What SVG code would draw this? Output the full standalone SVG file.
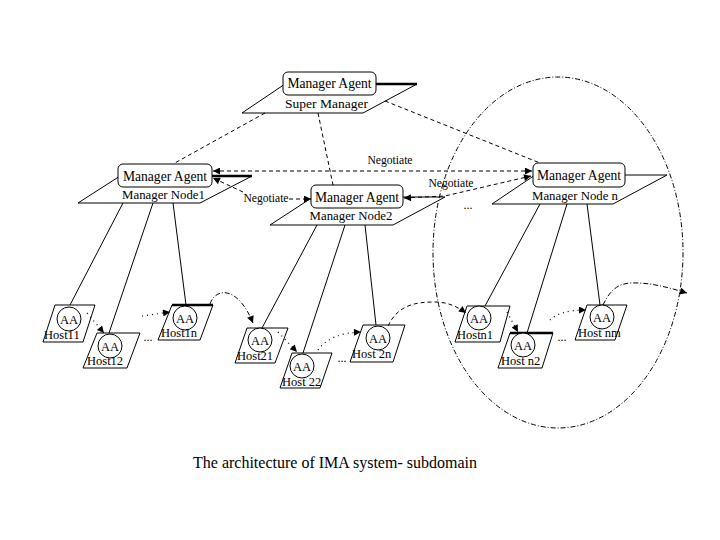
<svg xmlns="http://www.w3.org/2000/svg" width="720" height="540" viewBox="0 0 720 540">
<defs>
<style>
text{font-family:"Liberation Serif","Times New Roman",serif;fill:#000}
.agent{font-size:13.6px;text-anchor:middle}
.sub{font-size:12.8px;text-anchor:middle}
.host{font-size:12.5px}
.aa{font-size:12.5px;text-anchor:middle}
.neg{font-size:11.6px;text-anchor:middle}
.dots{font-size:12px;text-anchor:middle}
.title{font-size:16px}
.para{fill:none;stroke:#000;stroke-width:1}
.box{fill:#fff;stroke:#000;stroke-width:1}
.circ{fill:#fff;stroke:#000;stroke-width:1}
.thick{stroke:#000;stroke-width:2.5;fill:none}
.solid{stroke:#000;stroke-width:1;fill:none}
.dash{stroke:#000;stroke-width:1;fill:none;stroke-dasharray:4 3}
.dashdot{stroke:#000;stroke-width:1;fill:none;stroke-dasharray:5 2 1 2}
.dotted{stroke:#000;stroke-width:1.2;fill:none;stroke-dasharray:1 4}
.arr{marker-end:url(#ah)}
.arr2{marker-start:url(#ah);marker-end:url(#ah)}
.arrs{marker-start:url(#ah)}
</style>
<marker id="ah" viewBox="0 0 10 10" refX="10" refY="5" markerWidth="9" markerHeight="7" markerUnits="userSpaceOnUse" orient="auto-start-reverse">
<path d="M0,0 L10,5 L0,10 z" fill="#000"/>
</marker>
</defs>
<rect width="720" height="540" fill="#fff"/>

<g id="subdomain">
<ellipse cx="558" cy="252.5" rx="125" ry="175.5" class="dashdot"/>
</g>

<g id="connectors">
<!-- super manager to managers -->
<line x1="265" y1="113" x2="173" y2="164" class="dash"/>
<line x1="318" y1="113" x2="333" y2="185" class="dash"/>
<line x1="385" y1="101" x2="540" y2="163" class="dash"/>
<!-- manager to hosts -->
<line x1="123" y1="203" x2="70" y2="305" class="solid"/>
<line x1="153" y1="203" x2="109" y2="333" class="solid"/>
<line x1="173" y1="203" x2="186" y2="305" class="solid"/>
<line x1="317" y1="225" x2="262" y2="328" class="solid"/>
<line x1="345" y1="225" x2="303" y2="353" class="solid"/>
<line x1="365" y1="225" x2="376" y2="325" class="solid"/>
<line x1="540" y1="204" x2="485" y2="306" class="solid"/>
<line x1="567" y1="204" x2="527" y2="333" class="solid"/>
<line x1="587" y1="204" x2="600" y2="305" class="solid"/>
<!-- negotiate -->
<line x1="213" y1="171" x2="532" y2="171" class="dash arr2"/>
<text x="390" y="164" class="neg">Negotiate</text>
<line x1="243" y1="192" x2="213" y2="178" class="dash arr"/>
<line x1="289" y1="199" x2="311" y2="199" class="dash arr"/>
<text x="266" y="202" class="neg">Negotiate</text>
<polyline points="404,198 445,196 531,176" class="dash arr2"/>
<text x="451" y="187" class="neg">Negotiate</text>
<!-- migration paths -->
<line x1="87" y1="313" x2="104" y2="333" class="dotted arr"/>
<line x1="142" y1="316" x2="170" y2="312" class="dotted arr"/>
<path d="M210,304 C216,287 238,286 253,323" class="dashdot arr"/>
<line x1="278" y1="332" x2="297" y2="352" class="dotted arr"/>
<path d="M318,350 Q330,333 361,332" class="dotted arr"/>
<path d="M388,326 C398,305 415,302 435,302 C448,302 458,307 466,313" class="dash arr"/>
<line x1="507" y1="312" x2="518" y2="332" class="dotted arr"/>
<path d="M550,320 Q560,310 586,310" class="dotted arr"/>
<path d="M603,305 C610,290 618,284 630,283 C650,282 670,288 687,293" class="dashdot arr"/>
</g>

<g id="super-manager">
<polygon points="285,84 417,84 363,113 242,113" class="para"/>
<rect x="283" y="72" width="93" height="23" rx="5" class="box"/>
<line x1="376" y1="84" x2="417" y2="84" class="thick"/>
<text x="329.5" y="88" class="agent">Manager Agent</text>
<text x="326.5" y="108" class="agent" style="font-size:13.5px">Super Manager</text>
</g>

<g id="manager-node1">
<polygon points="120,176 252,176 200,203 78,203" class="para"/>
<rect x="118" y="164" width="94" height="23" rx="5" class="box"/>
<line x1="212" y1="176" x2="252" y2="176" class="thick"/>
<text x="165" y="181" class="agent">Manager Agent</text>
<text x="163.5" y="199" class="sub">Manager Node1</text>
</g>

<g id="manager-node2">
<polygon points="313,197 445,197 393,225 270,225" class="para"/>
<rect x="311" y="185" width="92" height="23" rx="5" class="box"/>
<text x="357" y="202" class="agent">Manager Agent</text>
<text x="351" y="220" class="sub">Manager Node2</text>
</g>

<g id="manager-node-n">
<polygon points="535,175 667,175 613,204 492,204" class="para"/>
<rect x="533" y="163" width="92" height="24" rx="5" class="box"/>
<text x="579" y="180" class="agent">Manager Agent</text>
<text x="575" y="200" class="sub">Manager Node n</text>
</g>

<text x="468" y="209" class="dots">...</text>

<g id="host11">
<polygon points="55,305 95,305 83,342 43,342" class="para"/>
<circle cx="69" cy="319" r="12" class="circ"/>
<text x="69" y="323.5" class="aa">AA</text>
<text x="44" y="339" class="host">Host11</text>
</g>
<g id="host12">
<polygon points="97,333 140,333 127,368 83,368" class="para"/>
<circle cx="110" cy="346" r="12" class="circ"/>
<text x="110" y="350.5" class="aa">AA</text>
<text x="87" y="365" class="host">Host12</text>
</g>
<text x="148" y="341" class="dots">...</text>
<g id="host1n">
<polygon points="172,305 213,305 200,340 158,340" class="para"/>
<line x1="172" y1="305" x2="213" y2="305" class="thick"/>
<circle cx="185" cy="318" r="12" class="circ"/>
<text x="185" y="322.5" class="aa">AA</text>
<text x="161" y="337" class="host">Host1n</text>
</g>

<g id="host21">
<polygon points="247,328 288,328 275,363 235,363" class="para"/>
<circle cx="260" cy="340" r="12" class="circ"/>
<text x="260" y="344.5" class="aa">AA</text>
<text x="237" y="360" class="host">Host21</text>
</g>
<g id="host22">
<polygon points="292,353 332,353 320,388 280,388" class="para"/>
<circle cx="302" cy="366" r="12" class="circ"/>
<text x="302" y="370.5" class="aa">AA</text>
<text x="282" y="386" class="host">Host 22</text>
</g>
<text x="342" y="362" class="dots">...</text>
<g id="host2n">
<polygon points="363,325 405,325 393,362 350,362" class="para"/>
<circle cx="378" cy="338" r="12" class="circ"/>
<text x="378" y="342.5" class="aa">AA</text>
<text x="352" y="358" class="host">Host 2n</text>
</g>

<g id="hostn1">
<polygon points="467,306 510,306 500,342 455,342" class="para"/>
<circle cx="479" cy="318" r="12" class="circ"/>
<text x="479" y="322.5" class="aa">AA</text>
<text x="457" y="339" class="host">Hostn1</text>
</g>
<g id="hostn2">
<polygon points="510,333 553,333 542,368 498,368" class="para"/>
<line x1="510" y1="333" x2="553" y2="333" class="thick"/>
<circle cx="523" cy="345" r="12" class="circ"/>
<text x="523" y="349.5" class="aa">AA</text>
<text x="501" y="365" class="host">Host n2</text>
</g>
<text x="562" y="341" class="dots">...</text>
<g id="hostnm">
<polygon points="587,305 627,305 615,340 575,340" class="para"/>
<circle cx="602" cy="317" r="12" class="circ"/>
<text x="602" y="321.5" class="aa">AA</text>
<text x="578" y="337" class="host">Host nm</text>
</g>

<text x="193" y="468" class="title">The architecture of IMA system- subdomain</text>
</svg>
